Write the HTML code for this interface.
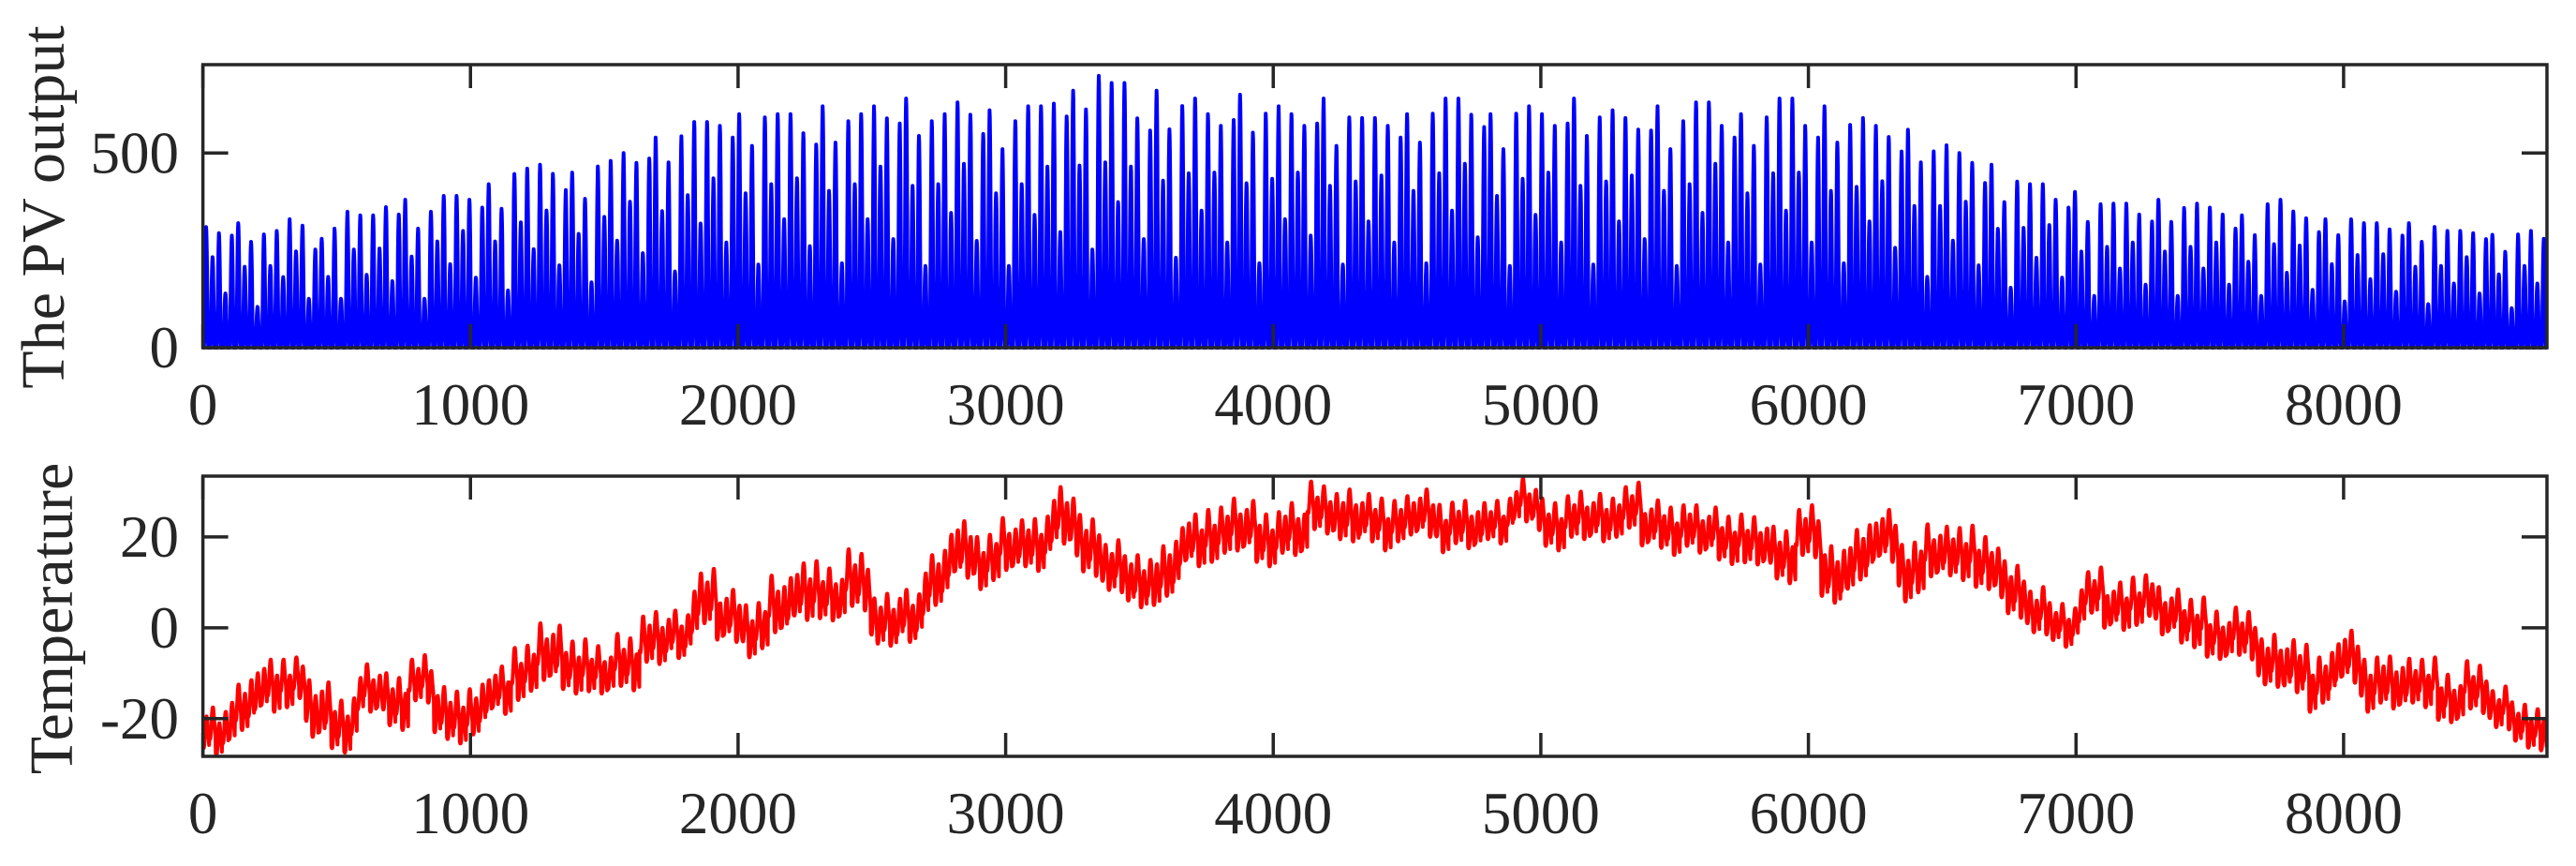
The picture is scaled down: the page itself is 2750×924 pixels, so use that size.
<!DOCTYPE html>
<html><head><meta charset="utf-8"><style>
html,body{margin:0;padding:0;background:#fff;}
svg{display:block;font-family:"Liberation Serif",serif;}
</style></head><body>
<svg id="chart" width="2750" height="924" viewBox="0 0 2750 924" xmlns="http://www.w3.org/2000/svg">
<rect x="0" y="0" width="2750" height="924" fill="#fff"/>
<g id="top"></g>
<g id="bot"></g>
<text transform="translate(68,221) rotate(-90)" text-anchor="middle" font-size="66" fill="#262626">The PV output</text>
<text transform="translate(77,660) rotate(-90)" text-anchor="middle" font-size="66" fill="#262626">Temperature</text>
</svg>
<script>
// ---- data ----
const xTicks = [0,1000,2000,3000,4000,5000,6000,7000,8000];
const pvTicks = [0,500];
const tempTicks = [-20,0,20];
// PV peak per 4-day block (92 blocks)
const pvPeak = [310,320,300,330,280,360,
340,380,360,390,400, 420,460,470,450,480, 500,540,560,580,600, 610,600,580,620,600,
620,640,600,630,610, 600,620,660,720,680, 620,660,640,600,650, 620,600,640,610,590,
600,620,640,630,600, 620,600,640,610,590, 620,600,630,600,610, 640,600,620,590,570,
560,520,500,470,440, 420,400,380,370,360, 380,370,360,340,380, 350,330,340,320,320,
320,300,310,290,300,280];
const pvDayFactor = [1,0.75,0.95,0.45,0.9,1,0.65,0.85,0.35,0.97,0.7,1,0.55];
const pvHourShape = [0,0,0,0,0,0.04,0.14,0.32,0.52,0.72,0.86,0.95,1,0.97,0.88,0.74,0.55,0.35,0.16,0.05,0,0,0,0];
// Temperature mean per 4-day block (92 blocks)
const tempMean = [-23,-18,-13,-11.5,-18.5,-21,-14,-16,-12,-19,-19,-14,-9.4,-6,-8,-10,-7.3,-3,-1.7,6,2.4,0,4.5,
8.7,6.6,10.8,1,2.4,10,17,15,17.7,19,24,18.4,12.8,10,12,19,21,22,20,21,26.7,24,24,
23,25,22.6,22,24,27.4,23,24,24,26,22.6,22,21,20,18.4,16.3,20.5,11.5,15.6,20,12.8,16.3,17,
13.5,8.7,3,0.3,7.3,4.5,6.6,3,1.7,-2.4,-1,-8,-8.7,-12,-6.6,-12,-12.8,-11.5,-16.3,-12.8,-18.4,-21.9,-21];
const tempSwing = [7,8,8,7,9,8,7,8,7,8,8,7,8,9,8,7,8,8,7,9,8,8,9,
9,8,9,8,8,9,9,8,8,8,9,9,8,8,9,8,8,8,8,8,7,8,7,
7,7,7,7,6,6,7,7,7,7,7,7,7,7,7,8,8,9,9,8,9,8,8,
8,8,7,6,7,7,7,7,7,7,7,8,8,8,8,8,8,7,7,7,6,6,7];
const tempDayShift = [0,2,-1.5,1,-2.5,1.5,-0.5,2.5,-1];
const tempHourShape = [-0.9,-0.95,-1,-1,-0.95,-0.85,-0.6,-0.3,0,0.3,0.6,0.8,0.95,1,1,0.9,0.7,0.45,0.2,0,-0.2,-0.4,-0.6,-0.8];

// ---- layout ----
const NS = "http://www.w3.org/2000/svg";
const X0 = 216.6, X1 = 2719, XMAX = 8760;
const xs = v => X0 + (v / XMAX) * (X1 - X0);
const topY0 = 69, topY1 = 371, pvMax = 727;
const ysPV = v => topY1 - (v / pvMax) * (topY1 - topY0);
const botY0 = 508, botY1 = 807, tMin = -28.3, tMax = 33.4;
const ysT = v => botY1 - (v - tMin) / (tMax - tMin) * (botY1 - botY0);
function mk(tag, attrs, parent){ const e=document.createElementNS(NS,tag); for(const k in attrs) e.setAttribute(k,attrs[k]); parent.appendChild(e); return e; }

function drawAxes(g, y0, y1, yTicks, ys, prefix){
  const box = mk('rect',{x:X0,y:y0,width:X1-X0,height:y1-y0,fill:'none',stroke:'#262626','stroke-width':3.5},g);
  
  
  xTicks.forEach(t=>{
    const x = xs(t);
    const a = mk('line',{x1:x,x2:x,y1:y1,y2:y1-25,stroke:'#262626','stroke-width':3.5},g);
    
    
    const b = mk('line',{x1:x,x2:x,y1:y0,y2:y0+25,stroke:'#262626','stroke-width':3.5},g);
    
    
    const lb = mk('text',{x:x,y:y1+82,'text-anchor':'middle','font-size':63,fill:'#262626'},g);
    lb.textContent = t;
    
    
  });
  yTicks.forEach(t=>{
    const y = ys(t);
    const a = mk('line',{x1:X0,x2:X0+27,y1:y,y2:y,stroke:'#262626','stroke-width':3.5},g);
    
    
    const b = mk('line',{x1:X1,x2:X1-27,y1:y,y2:y,stroke:'#262626','stroke-width':3.5},g);
    
    
    const lb = mk('text',{x:191,y:y+21,'text-anchor':'end','font-size':63,fill:'#262626'},g);
    lb.textContent = t;
    
    
  });
}

// PV series
const topG = document.getElementById('top');
let pvPts = [];
for(let h=0; h<XMAX; h++){
  const day = Math.floor(h/24), blk = Math.min(pvPeak.length-1, Math.floor(h/96));
  const v = pvPeak[blk] * pvDayFactor[day % pvDayFactor.length] * pvHourShape[h % 24];
  pvPts.push(xs(h).toFixed(1)+','+ysPV(v).toFixed(1));
}
const pvLine = mk('polyline',{points:pvPts.join(' '),fill:'none',stroke:'#0000ff','stroke-width':4,'stroke-linejoin':'round'},topG);


drawAxes(topG, topY0, topY1, pvTicks, ysPV, 'pv');

// Temperature series
const botG = document.getElementById('bot');
let tPts = [];
for(let h=0; h<XMAX; h++){
  const day = Math.floor(h/24), blk = Math.min(tempMean.length-1, Math.floor(h/96));
  const v = tempMean[blk] + tempDayShift[day % tempDayShift.length] + tempSwing[blk]/2 * tempHourShape[h % 24];
  tPts.push(xs(h).toFixed(1)+','+ysT(Math.max(tMin, Math.min(tMax, v))).toFixed(1));
}
const tLine = mk('polyline',{points:tPts.join(' '),fill:'none',stroke:'#ff0000','stroke-width':4,'stroke-linejoin':'round'},botG);


drawAxes(botG, botY0, botY1, tempTicks, ysT, 'temp');
</script>
</body></html>
